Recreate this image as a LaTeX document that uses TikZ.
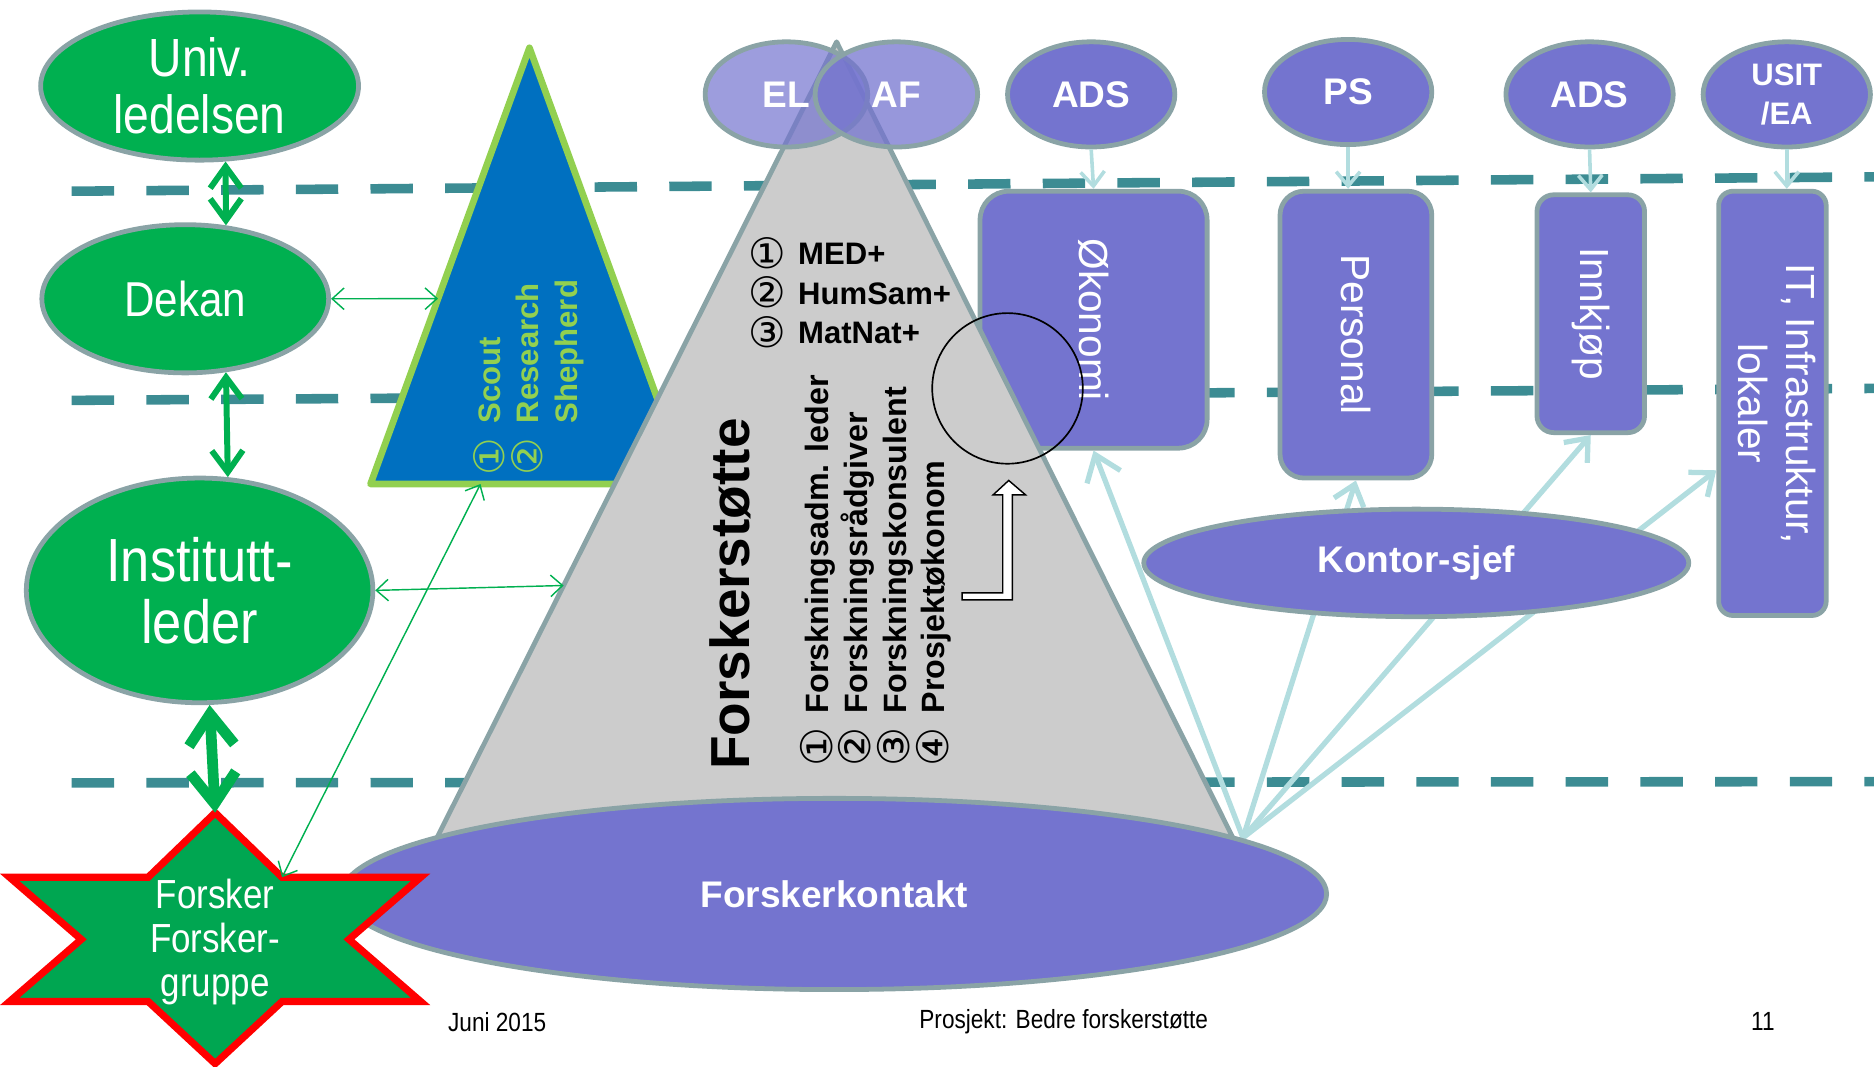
\documentclass[tikz,border=0pt]{standalone}
\usepackage{fontspec}
\setmainfont{Liberation Sans}
\newfontfamily\narrowfont[FakeStretch=0.86]{Liberation Sans}
\newfontfamily\symfont{DejaVu Sans}
\newcommand{\cn}[1]{\smash{\raisebox{-1.5pt}{\scalebox{1.35}{\symfont\mdseries #1}}}}
\usetikzlibrary{shapes.geometric,arrows.meta,calc}
\definecolor{ggreen}{HTML}{00B050}
\definecolor{sgreen}{HTML}{00A651}
\definecolor{edgegrey}{HTML}{8AA3A6}
\definecolor{tblue}{HTML}{0070C0}
\definecolor{lgreen}{HTML}{92D050}
\definecolor{tgrey}{HTML}{CCCCCC}
\definecolor{purp}{HTML}{7474CF}
\definecolor{dashteal}{HTML}{3C8C93}
\definecolor{lblue}{HTML}{B2DDDF}
\tikzset{
  greenell/.style={ellipse, fill=ggreen, draw=edgegrey, line width=2pt, text=white, inner sep=0pt, align=center},
  purpell/.style={ellipse, fill=purp, draw=edgegrey, line width=2pt, text=white, inner sep=0pt, align=center, font=\bfseries\fontsize{15.5}{17}\selectfont},
  purpbox/.style={rectangle, rounded corners=#1, fill=purp, draw=edgegrey, line width=2pt, text=white, inner sep=0pt, font=\fontsize{17}{20}\selectfont},
  levelline/.style={dashteal, line width=4pt, dash pattern=on 17.75pt off 13.5pt},
  thinarrow/.style={ggreen, line width=0.6pt, {Straight Barb[length=5pt,width=9pt]}-{Straight Barb[length=5pt,width=9pt]}},
  medarrow/.style={ggreen, line width=2.5pt, {Straight Barb[length=9pt,width=13pt]}-{Straight Barb[length=9pt,width=13pt]}},
  bigarrow/.style={ggreen, line width=4.5pt, {Straight Barb[length=13pt,width=19pt]}-{Straight Barb[length=13pt,width=19pt]}},
  toparrow/.style={lblue, line width=1.5pt, -{Straight Barb[length=6pt,width=10pt]}},
  hubarrow/.style={lblue, line width=2.2pt, -{Straight Barb[length=8pt,width=13pt]}},
  footer/.style={font=\narrowfont\fontsize{11}{13}\selectfont, inner sep=0pt}
}
\begin{document}
\begin{tikzpicture}[x=0.5pt,y=-0.5pt]
\useasboundingbox (0,0) rectangle (1568,892);

% level lines
\draw[levelline] (60,160) -- (1568,148);
\draw[levelline] (60,335) -- (1568,325);
\draw[levelline] (60,655) -- (1568,654);

% blue triangle
\coordinate (bA) at (443,40);
\coordinate (bL) at (310,405);
\coordinate (bR) at (576,405);
\draw[fill=tblue, draw=lgreen, line width=2.8pt, line join=round] (bA) -- (bL) -- (bR) -- cycle;

% boxes
\node[purpbox=12pt, minimum width=95pt, minimum height=107.5pt] (okon) at (915,267.5) {\rotatebox{-90}{Økonomi}};
\node[purpbox=10pt, minimum width=63.5pt, minimum height=120pt] (pers) at (1134.5,280) {\rotatebox{-90}{Personal}};
\node[purpbox=7pt, minimum width=45pt, minimum height=99.5pt] (innk) at (1331,262.5) {\rotatebox{-90}{Innkjøp}};
\node[purpbox=6pt, minimum width=45pt, minimum height=177.5pt] (it) at (1483,337.5) {\rotatebox{-90}{\begin{tabular}{@{}c@{}}IT, Infrastruktur,\\lokaler\end{tabular}}};

% grey triangle
\coordinate (gA) at (700,35);
\coordinate (gL) at (342,748);
\coordinate (gR) at (1055,748);
\draw[fill=tgrey, draw=edgegrey, line width=2pt, line join=round] (gA) -- (gL) -- (gR) -- cycle;

% hub lines
\coordinate (hub) at (1040,701);
\draw[hubarrow, {Straight Barb[length=10pt,width=15pt]}-] (okon.south) -- (hub);
\draw[hubarrow] (hub) -- (pers.south);
\draw[hubarrow] (hub) -- (innk.south);
\draw[hubarrow] (hub) -- ([yshift=-28pt]it.west);

\node[purpell, minimum width=228pt, minimum height=45pt] (kontor) at (1185,471) {Kontor-sjef};
\node[purpell, minimum width=412pt, minimum height=80pt] (fkontakt) at (698,748) {Forskerkontakt};

% star
\coordinate (s0) at (180,680);
\coordinate (s1) at (236,734);
\draw[fill=sgreen, draw=red, line width=3pt, line join=miter]
  (s0) -- (s1) -- (352,734) -- (292,786) -- (352,838) -- (236,838) -- (180,890)
  -- (124,838) -- (8,838) -- (68,786) -- (8,734) -- (124,734) -- cycle;
\node[text=white, align=center, inner sep=0pt, font=\narrowfont\fontsize{17}{18.5}\selectfont] (star) at (180,788) {Forsker\\Forsker-\\gruppe};

% EL / AF
\node[purpell, fill opacity=0.7, text opacity=1, minimum width=68pt, minimum height=44pt] (el) at (658,79) {EL};
\node[purpell, fill opacity=0.75, text opacity=1, minimum width=68pt, minimum height=44pt] (af) at (750,79) {AF};

% top ellipses
\node[purpell, minimum width=70pt, minimum height=44pt] (ads1) at (913,79) {ADS};
\node[purpell, minimum width=70pt, minimum height=44pt] (ps) at (1128,77) {PS};
\node[purpell, minimum width=70pt, minimum height=44pt] (ads2) at (1330,79) {ADS};
\node[purpell, minimum width=70pt, minimum height=44pt, font=\bfseries\fontsize{13}{16}\selectfont] (usit) at (1495,79) {USIT\\/EA};

\draw[toparrow] (ads1.south) -- (okon.north);
\draw[toparrow] (ps.south) -- (ps.south |- pers.north);
\draw[toparrow] (ads2.south) -- (innk.north);
\draw[toparrow] (usit.south) -- (usit.south |- it.north);

% green ellipses
\node[greenell, minimum width=133pt, minimum height=62pt, font=\narrowfont\fontsize{22.5}{24}\selectfont] (univ) at (167,72) {Univ.\\ledelsen};
\node[greenell, minimum width=120pt, minimum height=62pt, font=\narrowfont\fontsize{20.5}{22}\selectfont] (dekan) at (155,250) {Dekan};
\node[greenell, minimum width=145pt, minimum height=94pt, font=\narrowfont\fontsize{25.5}{26}\selectfont] (inst) at (167,494) {Institutt-\\leder};

% green arrows
\draw[medarrow] (univ.-71) -- (dekan.61);
\draw[medarrow] (dekan.-61) -- (inst.76);
\draw[bigarrow] (inst.-85) -- (s0);
\draw[thinarrow] (dekan.east) -- ($(bA)!0.575!(bL)$);
\draw[thinarrow] (inst.east) -- ($(gA)!0.638!(gL)$);
\draw[thinarrow] (s1) -- ($(bL)!0.346!(bR)$);

% texts in triangles
\node[rotate=90, anchor=north west, inner sep=0pt, text=lgreen, font=\bfseries\fontsize{13}{16}\selectfont] (scout) at (396,398)
  {\begin{tabular}{@{}l@{\hspace{6pt}}l@{}}\cn{①} & Scout\\ \cn{②} & Research\\ & Shepherd\end{tabular}};
\node[anchor=west, inner sep=0pt, font=\bfseries\fontsize{13}{16.5}\selectfont] (fak) at (626,248)
  {\begin{tabular}{@{}l@{\hspace{5pt}}l@{}}\cn{①} & MED+\\ \cn{②} & HumSam+\\ \cn{③} & MatNat+\end{tabular}};
\node[rotate=90, inner sep=0pt, font=\bfseries\fontsize{23}{26}\selectfont] (fstitle) at (611,497) {Forskerstøtte};
\node[rotate=90, anchor=north west, inner sep=0pt, font=\bfseries\fontsize{13.5}{16.25}\selectfont] (roles) at (670,642)
  {\begin{tabular}{@{}l@{\hspace{6pt}}l@{}}\cn{①} & Forskningsadm. leder\\ \cn{②} & Forskningsrådgiver\\ \cn{③} & Forskningskonsulent\\ \cn{④} & Prosjektøkonom\end{tabular}};

% annotation
\node[circle, draw=black, line width=0.7pt, minimum size=63pt, inner sep=0pt] (mark) at (843,325) {};
\draw[black, line width=0.6pt, fill=white, line join=miter] (805,496) -- (839,496) -- (839,414) -- (831,414) -- (844,402) -- (858,414) -- (847,414) -- (847,502) -- (805,502) -- cycle;

% footer
\node[footer] (date) at (416,855) {Juni 2015};
\node[footer] (proj) at (890,855) {Prosjekt: Bedre forskerstøtte};
\node[footer] (page) at (1475,855) {11};
\end{tikzpicture}
\end{document}
